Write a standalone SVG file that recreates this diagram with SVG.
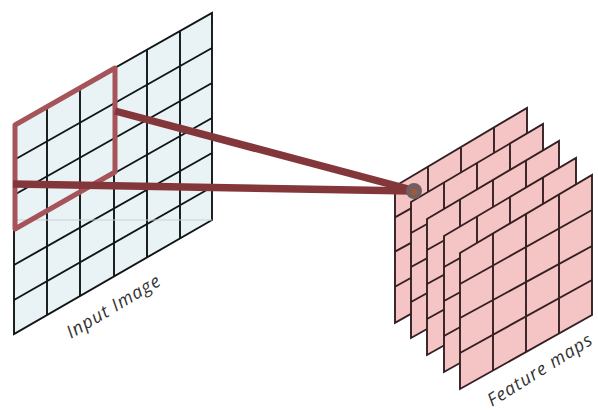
<svg xmlns="http://www.w3.org/2000/svg" width="598" height="410" viewBox="0 0 598 410">
<style>
.grid{stroke:#111516;stroke-width:1.9;fill:none}
.mapgrid{stroke:#342022;stroke-width:1.9;fill:none}
.lbl{font-family:"Open Sans","DejaVu Sans",sans-serif;font-size:18px;font-style:italic;fill:#333;letter-spacing:1px}
.beam{stroke:#84373b;stroke-width:7.5;fill:none}
</style>
<defs>
<g id="layer">
<path d="M460 253L592 175V315L460 389Z" fill="#f5c4c5"/>
<path class="mapgrid" d="M460 253L592 175V315L460 389ZM460 284L592 210M460 318L592 246M460 353L592 280M493 233.5V370.5M526 214V352M559 194.5V333.5"/>
</g>
</defs>
<rect width="598" height="410" fill="#fff"/>
<g id="input-image">
<path d="M14 125L212 13V220L14 334Z" fill="#e9f3f6"/>
<path class="grid" d="M14 125L212 13V220L14 334ZM14 160L212 48M14 195L212 83M14 230L212 118M14 265L212 153M14 300L212 187M47 106V315M80 88V296M114 69V277M147 50V258M180 31V239"/>
<path d="M14 220H212" stroke="#c9cfd0" stroke-width="1" fill="none"/>
<text class="lbl" transform="translate(71 339) rotate(-31)">Input Image</text>
</g>
<g id="feature-maps">
<use href="#layer" transform="translate(-65 -68) scale(1 1.005)"/>
<use href="#layer" transform="translate(-49 -51)"/>
<use href="#layer" transform="translate(-33 -34)"/>
<use href="#layer" transform="translate(-16 -17)"/>
<use href="#layer"/>
<text class="lbl" transform="translate(492 407) rotate(-32)">Feature maps</text>
</g>
<g id="connectors">
<path d="M15 125L115 68V172L15 229Z" fill="none" stroke="#a5545a" stroke-width="5" stroke-linejoin="round"/>
<path class="beam" d="M115 111L412 190"/>
<path class="beam" d="M13 184L412 191"/>
<circle cx="414" cy="191" r="8" fill="#6f5f62"/>
<circle cx="414" cy="192" r="3.5" fill="#9a5a3c"/>
</g>
</svg>
